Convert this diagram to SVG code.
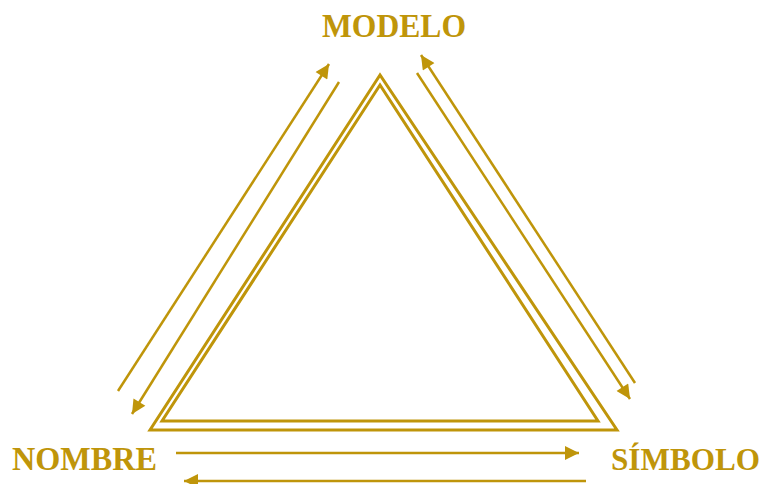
<svg xmlns="http://www.w3.org/2000/svg" width="766" height="484" viewBox="0 0 766 484">
<style>
.t{font-family:"Liberation Serif","DejaVu Serif",serif;font-weight:bold;font-size:33px;fill:#BF950A}
.c{stroke:#BF950A;stroke-width:2.5;fill:none}
.tri{stroke:#BF950A;stroke-width:3;fill:none;stroke-linejoin:miter}
</style>
<defs>
<marker id="ah" viewBox="0 0 10 10" refX="10" refY="5" markerWidth="7" markerHeight="5.6" markerUnits="strokeWidth" orient="auto">
<path d="M0,0 L10,5 L0,10 z" fill="#BF950A"/>
</marker>
</defs>
<g id="triangle">
<polygon class="tri" points="380,75 150,430 617,430"/>
<polygon class="tri" points="380,85 162,421 598,421"/>
</g>
<g id="modelo"><text class="t" x="394" y="37" text-anchor="middle" textLength="144" lengthAdjust="spacingAndGlyphs">MODELO</text></g>
<g id="nombre"><text class="t" x="12" y="470" textLength="145" lengthAdjust="spacingAndGlyphs">NOMBRE</text></g>
<g id="simbolo"><text class="t" x="611" y="470" style="font-size:31.5px" textLength="149" lengthAdjust="spacingAndGlyphs">SÍMBOLO</text></g>
<g id="connectors">
<line class="c" x1="118" y1="391" x2="329" y2="64" marker-end="url(#ah)"/>
<line class="c" x1="339" y1="82" x2="132" y2="414" marker-end="url(#ah)"/>
<line class="c" x1="635" y1="383" x2="421" y2="55" marker-end="url(#ah)"/>
<line class="c" x1="417" y1="73" x2="630" y2="399" marker-end="url(#ah)"/>
<line class="c" x1="176" y1="453" x2="579" y2="453" marker-end="url(#ah)"/>
<line class="c" x1="586" y1="481" x2="184" y2="481" marker-end="url(#ah)"/>
</g>
</svg>
